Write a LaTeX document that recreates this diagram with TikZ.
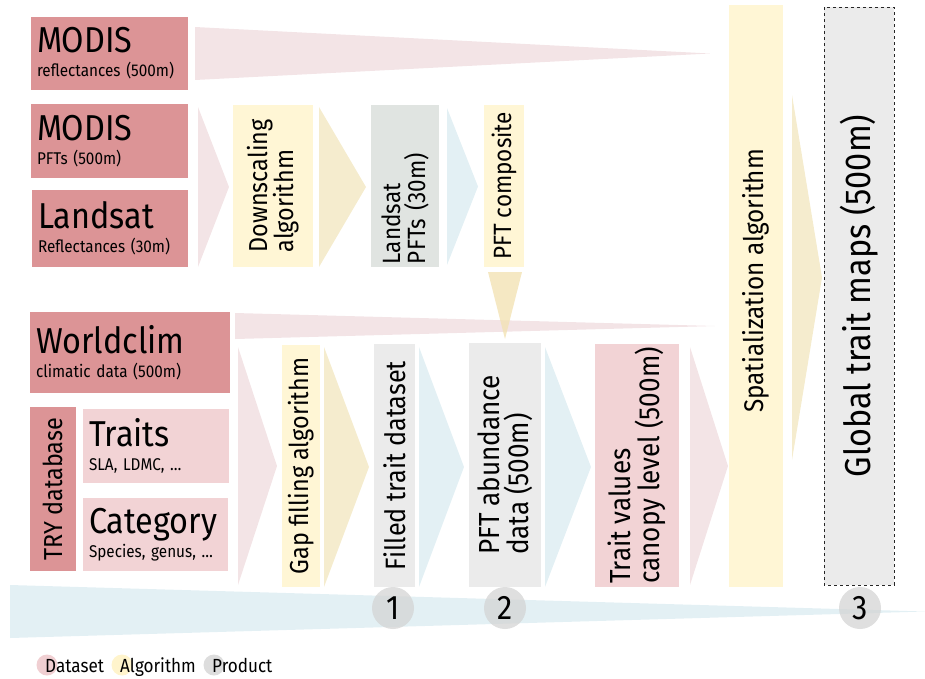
\documentclass[tikz,border=0pt]{standalone}
\usepackage{fontspec}
\setmainfont{Fira Sans}[FakeStretch=0.9]
\usetikzlibrary{positioning}
\definecolor{dsdark}{HTML}{DC9496}
\definecolor{dslight}{HTML}{F2D3D5}
\definecolor{algo}{HTML}{FFF6D5}
\definecolor{prod}{HTML}{EBEBEB}
\definecolor{prodgreen}{HTML}{E0E4E1}
\definecolor{chpink}{HTML}{F3E4E6}
\definecolor{chyellow}{HTML}{F5ECCE}
\definecolor{chyellowdark}{HTML}{F2E2B4}
\definecolor{chblue}{HTML}{E3F0F4}
\definecolor{legpink}{HTML}{F0CFD2}
\definecolor{legyellow}{HTML}{FFF4CC}
\definecolor{leggray}{HTML}{DDDDDD}
\newcommand{\titlefont}{\fontsize{36}{36}\selectfont}
\tikzset{dsbox/.style={rectangle,inner sep=0pt,align=left,font=\fontsize{17}{24}\selectfont}}
\tikzset{rotbox/.style={rectangle,inner sep=2pt,rotate=90,align=left}}
\tikzset{numcirc/.style={circle,fill=black!17,fill opacity=0.75,text opacity=1,minimum size=42pt,inner sep=0pt,font=\fontsize{34}{34}\selectfont}}
\tikzset{legdot/.style={circle,minimum size=21pt,inner sep=0pt}}
\tikzset{legtext/.style={inner sep=0pt,font=\fontsize{19}{19}\selectfont}}

\begin{document}
\begin{tikzpicture}[x=1pt,y=-1pt]
  \useasboundingbox (0,0) rectangle (925,678);

  % chevrons
  \foreach \xa/\ya/\yb/\xb/\col in {195/27/80/710/chpink, 235/313/339/715/chpink, 198/107/267/229/chpink, 319/107/267/366/chyellow, 447/108/265/478/chblue,
        238/347/585/277/chpink, 324/347/587/369/chyellow, 419/347/587/464/chblue, 545/347/587/591/chblue, 690/347/585/728/chpink,
        792/95/460/822/chyellow, 10/585/638/925/chblue}
         \fill[\col] (\xa,\ya) -- (\xb,{(\ya+\yb)/2}) -- (\xa,\yb) -- cycle;
  \fill[chyellowdark, opacity=0.8] (488,272) -- (522,272) -- (505,339) -- cycle;

  % datasets
   \foreach \x/\y/\w/\h/\col/\name/\title/\sub in {109.5/53.5/157/73/dsdark/modisr/MODIS/reflectances (500m), 109.5/141/157/74/dsdark/modisp/MODIS/PFTs (500m),
        110/228.5/156/77/dsdark/landsat/Landsat/Reflectances (30m), 130/352.5/200/81/dsdark/wclim/Worldclim/climatic data (500m),
        156/446/146/74/dslight/traits/Traits/{SLA, LDMC, \dots}, 155.5/534.5/145/73/dslight/categ/Category/{Species, genus, \dots}}
          {\pgfmathsetmacro{\tw}{\w-12}
          \node[dsbox, fill=\col, minimum width=\w pt, minimum height=\h pt, text width=\tw pt] (\name) at (\x,\y) {{\titlefont \title}\\\sub};}

  % rotated boxes
   \foreach \x/\y/\w/\h/\col/\fs/\name/\txt in {53/489/46/164/dsdark/26/try/TRY database, 273/186/80/162/algo/26/down/{Downscaling\\algorithm},
        504/186/40/162/algo/25/pftc/PFT composite, 301/466/38/242/algo/26/gap/Gap filling algorithm,
        394.5/465.5/41/243/prod/28/filled/Filled trait dataset, 505/465/72/244/prod/29/abund/{PFT abundance\\data (500m)},
        637/465.5/84/243/dslight/29/tval/{Trait values\\canopy level (500m)}}
          \node[rotbox, fill=\col, minimum width=\h pt, minimum height=\w pt, font=\fontsize{\fs}{\fs}\selectfont] (\name) at (\x,\y) {\txt};

   \node[rotbox, fill=prodgreen, minimum width=162pt, minimum height=68pt, text width=156pt, font=\fontsize{25}{25}\selectfont] (lpft) at (405,186) {Landsat\\PFTs (30m)};
   \node[rotbox, fill=algo, minimum width=582pt, minimum height=54pt, font=\fontsize{27}{27}\selectfont] (spat) at (756,296) {\hspace*{30pt}Spatialization algorithm};
   \node[rotbox, fill=prod, draw=black!85, dashed, thin, minimum width=578pt, minimum height=70pt, font=\fontsize{36}{36}\selectfont] (glob) at (859,296) {Global trait maps (500m)};

  % numbers
   \foreach \x/\n in {393/1, 505/2, 860/3}
          \node[numcirc] (num\n) at (\x,608) {\n};

  % legend
   \foreach \x/\col/\name/\txt in {47/legpink/dset/Dataset, 122/legyellow/algor/Algorithm, 214/leggray/prodt/Product}
         {\node[legdot, fill=\col] (\name dot) at (\x,665) {};
          \node[legtext, anchor=base west] (\name) at (\x-2,672) {\txt};}

\end{tikzpicture}
\end{document}
